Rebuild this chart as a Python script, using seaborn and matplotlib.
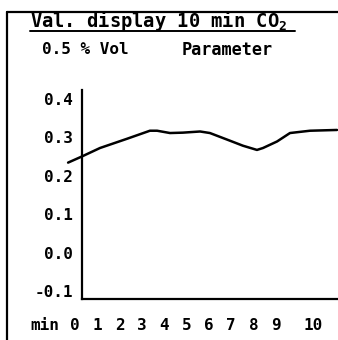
import matplotlib
matplotlib.use("Agg")
import matplotlib.pyplot as plt
from matplotlib.lines import Line2D
import seaborn as sns
import pandas as pd

# CO2 trend over the last 10 minutes (% Vol)
minutes = [-0.31, 0.31, 1.12, 2.33, 3.36, 3.68, 4.26, 4.84, 5.61, 6.05,
           6.95, 7.53, 8.16, 8.43, 9.06, 9.64, 10.54, 11.75]
co2 = [0.234, 0.250, 0.272, 0.296, 0.317, 0.317, 0.311, 0.312, 0.315, 0.311,
       0.291, 0.278, 0.267, 0.272, 0.289, 0.311, 0.317, 0.319]

y_ticks = [0.4, 0.3, 0.2, 0.1, 0.0, -0.1]
y_tick_labels = ["0.4", "0.3", "0.2", "0.1", "0.0", "-0.1"]
x_ticks = [0, 1, 2, 3, 4, 5, 6, 7, 8, 9, 10.67]
x_tick_labels = ["0", "1", "2", "3", "4", "5", "6", "7", "8", "9", "10"]

title = "Val. display 10 min CO$_2$"
range_label = "0.5 % Vol"
param_label = "Parameter"
unit_label = "min"

sns.set_style("white")
plt.rcParams["font.family"] = ["DejaVu Sans Mono", "DejaVu Sans"]
plt.rcParams["font.weight"] = "bold"
plt.rcParams["mathtext.fontset"] = "custom"
plt.rcParams["mathtext.rm"] = "DejaVu Sans Mono:bold"
plt.rcParams["mathtext.it"] = "DejaVu Sans Mono:bold"
plt.rcParams["mathtext.bf"] = "DejaVu Sans Mono:bold"
plt.rcParams["mathtext.default"] = "rm"

W, H = 338, 340
fig = plt.figure(figsize=(W / 100, H / 100), dpi=100)
fig.patch.set_facecolor("white")

def fx(px):
    return px / W

def fy(py):
    return 1 - py / H

# plot area: x from 60 px to right edge, y from 90 px to 299 px
ax = fig.add_axes([fx(60), fy(299), 1 - fx(60), fy(90) - fy(299)])
ax.set_facecolor("white")

df = pd.DataFrame({"minute": minutes, "co2": co2})
sns.lineplot(data=df, x="minute", y="co2", ax=ax, color="black",
             linewidth=1.8, sort=True, estimator=None)

xmin = (60 - 75) / 22.3
xmax = (338 - 75) / 22.3
x_axis = (82 - 75) / 22.3
ax.set_xlim(xmin, xmax)
ax.set_ylim(-0.121, 0.423)

for s in ["top", "right"]:
    ax.spines[s].set_visible(False)
ax.spines["left"].set_position(("data", x_axis))
ax.spines["bottom"].set_bounds(x_axis, xmax)
for s in ["left", "bottom"]:
    ax.spines[s].set_linewidth(1.6)
    ax.spines[s].set_color("black")

ax.set_yticks(y_ticks)
ax.set_yticklabels(y_tick_labels)
ax.set_xticks(x_ticks)
ax.set_xticklabels(x_tick_labels)
ax.tick_params(axis="y", length=0, pad=6.5, labelsize=11.5, labelcolor="black")
ax.tick_params(axis="x", length=0, pad=14, labelsize=11.5, labelcolor="black")
for lab in ax.get_xticklabels() + ax.get_yticklabels():
    lab.set_fontweight("bold")
ax.set_xlabel("")
ax.set_ylabel("")

# header texts
fig.text(fx(30), fy(27), title, fontsize=13.5, fontweight="bold",
         va="baseline", ha="left", color="black")
fig.add_artist(Line2D([fx(30), fx(295)], [fy(31), fy(31)],
                      color="black", linewidth=1.4))
fig.text(fx(42), fy(50), range_label, fontsize=11.5, fontweight="bold",
         va="center", ha="left", color="black")
fig.text(fx(182), fy(50), param_label, fontsize=12.2, fontweight="bold",
         va="center", ha="left", color="black")
fig.text(fx(30), fy(325), unit_label, fontsize=11.5, fontweight="bold",
         va="center", ha="left", color="black")

# display frame
fig.add_artist(Line2D([fx(7), fx(7)], [fy(12), 0], color="black", linewidth=1.6))
fig.add_artist(Line2D([fx(7), 1], [fy(12), fy(12)], color="black", linewidth=1.6))

fig.savefig("out.png", dpi=100, facecolor="white")
